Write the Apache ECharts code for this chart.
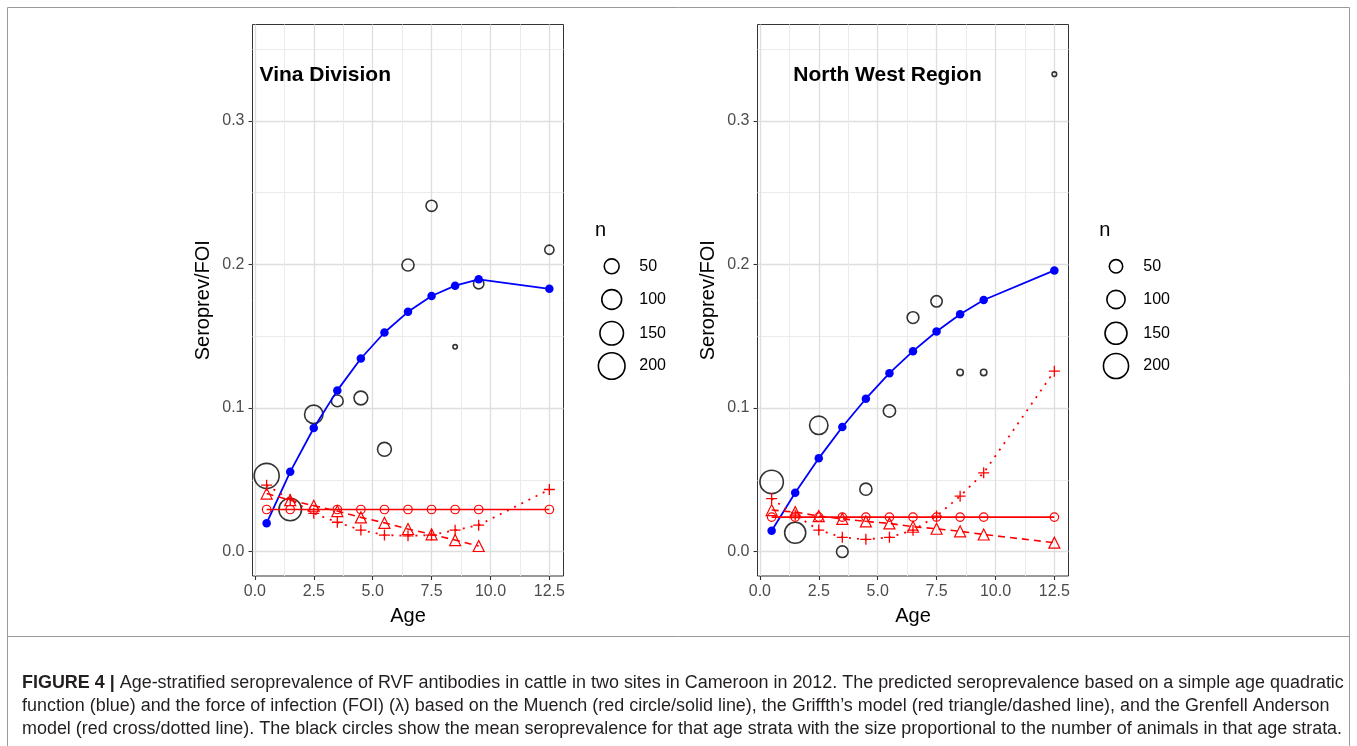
<!DOCTYPE html>
<html><head><meta charset="utf-8">
<script src="https://cdn.jsdelivr.net/npm/echarts@6/dist/echarts.min.js"></script>
<style>html,body{margin:0;padding:0;background:#fff}#c{width:1357px;height:746px}</style>
</head><body><div id="c"></div>
<script>
// ---------- data ----------
const ages = [0.5, 1.5, 2.5, 3.5, 4.5, 5.5, 6.5, 7.5, 8.5, 9.5, 12.5];
const xTicks = [0, 2.5, 5, 7.5, 10, 12.5];
const xMinor = [1.25, 3.75, 6.25, 8.75, 11.25];
const yTicks = [0, 0.1, 0.2, 0.3];
const yMinor = [0.05, 0.15, 0.25, 0.35];
const nBreaks = [50, 100, 150, 200];
const panelTitles = ['Vina Division', 'North West Region'];

// Vina Division
const vinaObs = [0.0528, 0.0294, 0.0956, 0.105, 0.107, 0.0713, 0.1996, 0.2408, 0.1426, 0.1866, 0.2102];
const vinaN = [174, 136, 84, 28, 41, 42, 30, 25, 7, 21, 16];
const vinaQuad = [0.0199, 0.0556, 0.0861, 0.1123, 0.1345, 0.1526, 0.1670, 0.1780, 0.1852, 0.1896, 0.1830];
const vinaMuench = [0.0294, 0.0294, 0.0294, 0.0294, 0.0294, 0.0294, 0.0294, 0.0294, 0.0294, 0.0294, 0.0294];
const vinaGriffiths = [0.0405, 0.0359, 0.0320, 0.0283, 0.0239, 0.0201, 0.0158, 0.0121, 0.0081, 0.0040, null];
const vinaGrenfell = [0.0463, 0.0364, 0.0267, 0.0205, 0.0151, 0.0116, 0.0111, 0.0116, 0.0150, 0.0185, 0.0433];

// North West Region
const nwObs = [0.0486, 0.0132, 0.0880, 0.0000, 0.0435, 0.0980, 0.1630, 0.1743, 0.1248, 0.1248, 0.3324];
const nwN = [172, 137, 102, 36, 40, 41, 37, 34, 8, 8, 3];
const nwQuad = [0.0146, 0.0410, 0.0650, 0.0868, 0.1065, 0.1243, 0.1396, 0.1533, 0.1653, 0.1752, 0.1958];
const nwMuench = [0.0241, 0.0241, 0.0241, 0.0241, 0.0241, 0.0241, 0.0241, 0.0241, 0.0241, 0.0241, 0.0241];
const nwGriffiths = [0.0290, 0.0276, 0.0248, 0.0229, 0.0211, 0.0197, 0.0174, 0.0160, 0.0142, 0.0120, 0.0063];
const nwGrenfell = [0.0370, 0.0255, 0.0151, 0.0100, 0.0086, 0.0100, 0.0150, 0.0248, 0.0387, 0.0549, 0.1257];

const captionLines = [
  '{b|FIGURE 4 |} Age-stratified seroprevalence of RVF antibodies in cattle in two sites in Cameroon in 2012. The predicted seroprevalence based on a simple age quadratic',
  'function (blue) and the force of infection (FOI) (\u03bb) based on the Muench (red circle/solid line), the Griffth\u2019s model (red triangle/dashed line), and the Grenfell Anderson',
  'model (red cross/dotted line). The black circles show the mean seroprevalence for that age strata with the size proportional to the number of animals in that age strata.'
];

// ---------- styling / layout ----------
const FONT = 'Liberation Sans, Arial, Helvetica, sans-serif';
const RED = '#ff0000', BLUE = '#0000ff';
const gridsPx = [{left: 252.5, top: 24.5, width: 311, height: 551.5}, {left: 757.5, top: 24.5, width: 311, height: 551.5}];
const xMin = -0.1, xMax = 13.1, yMin = -0.0169, yMax = 0.367;
// size scales (outer diameter, px) per panel, sqrt of n
const sizeScales = [{a: 6, b: 1.6, c: 7}, {a: 3.3, b: 1.655, c: 0}];
function diam(p, n) { const s = sizeScales[p]; return s.a + s.b * Math.sqrt(Math.max(0, n - s.c)); }

const panels = [
  {obs: vinaObs, n: vinaN, quad: vinaQuad, mu: vinaMuench, gr: vinaGriffiths, ga: vinaGrenfell},
  {obs: nwObs, n: nwN, quad: nwQuad, mu: nwMuench, gr: nwGriffiths, ga: nwGrenfell}
];
const pairs = arr => ages.map((a, i) => [a, arr[i]]).filter(d => d[1] != null);

const grid = [], xAxis = [], yAxis = [], series = [];
panels.forEach((P, p) => {
  grid.push(Object.assign({show: true, borderColor: '#333333', borderWidth: 1, backgroundColor: '#ffffff', containLabel: false}, gridsPx[p]));
  xAxis.push({gridIndex: p, type: 'value', min: xMin, max: xMax, position: 'bottom',
    axisLine: {show: false, onZero: false},
    axisTick: {show: true, length: 4, lineStyle: {color: '#333333', width: 1.1}, customValues: xTicks},
    axisLabel: {customValues: xTicks, formatter: v => v.toFixed(1), color: '#4d4d4d', fontSize: 16, margin: 8, fontFamily: FONT},
    splitLine: {show: true, lineStyle: {color: '#dedede', width: 1.3}},
    name: 'Age', nameLocation: 'middle', nameGap: 40,
    nameTextStyle: {fontSize: 20, color: '#000', fontFamily: FONT, verticalAlign: 'middle'}
  });
  xAxis.push({gridIndex: p, type: 'value', min: xMin, max: xMax, position: 'top',
    axisLine: {show: false, onZero: false}, axisTick: {show: false, customValues: xMinor},
    axisLabel: {show: false, customValues: xMinor},
    splitLine: {show: true, lineStyle: {color: '#ebebeb', width: 1}}
  });
  yAxis.push({gridIndex: p, type: 'value', min: yMin, max: yMax, position: 'left',
    axisLine: {show: false, onZero: false},
    axisTick: {show: true, length: 4, lineStyle: {color: '#333333', width: 1.1}, customValues: yTicks},
    axisLabel: {customValues: yTicks, formatter: v => v.toFixed(1), color: '#4d4d4d', fontSize: 16, margin: 8, fontFamily: FONT},
    splitLine: {show: true, lineStyle: {color: '#dedede', width: 1.3}},
    name: 'Seroprev/FOI', nameLocation: 'middle', nameGap: 49, nameRotate: 90,
    nameTextStyle: {fontSize: 20, color: '#000', fontFamily: FONT, verticalAlign: 'middle'}
  });
  yAxis.push({gridIndex: p, type: 'value', min: yMin, max: yMax, position: 'right',
    axisLine: {show: false, onZero: false}, axisTick: {show: false, customValues: yMinor},
    axisLabel: {show: false, customValues: yMinor},
    splitLine: {show: true, lineStyle: {color: '#ebebeb', width: 1}}
  });
  const xi = p * 2, yi = p * 2;
  series.push({type: 'scatter', xAxisIndex: xi, yAxisIndex: yi, z: 3,
    data: ages.map((a, i) => [a, P.obs[i], P.n[i]]),
    symbol: 'circle', symbolSize: v => diam(p, v[2]) - 1.6,
    itemStyle: {color: 'rgba(0,0,0,0)', borderColor: '#000', borderWidth: 1.6}
  });
  series.push({type: 'line', xAxisIndex: xi, yAxisIndex: yi, z: 4, data: pairs(P.quad),
    symbol: 'circle', symbolSize: 8.5, showSymbol: true,
    itemStyle: {color: BLUE}, lineStyle: {color: BLUE, width: 1.8}
  });
  series.push({type: 'line', xAxisIndex: xi, yAxisIndex: yi, z: 4, data: pairs(P.mu),
    symbol: 'circle', symbolSize: 8.5,
    itemStyle: {color: 'rgba(0,0,0,0)', borderColor: RED, borderWidth: 1.2}, lineStyle: {color: RED, width: 1.6}
  });
  series.push({type: 'line', xAxisIndex: xi, yAxisIndex: yi, z: 4, data: pairs(P.gr),
    symbol: 'triangle', symbolSize: 11,
    itemStyle: {color: 'rgba(0,0,0,0)', borderColor: RED, borderWidth: 1.2}, lineStyle: {color: RED, width: 1.6, type: [7, 5]}
  });
  series.push({type: 'line', xAxisIndex: xi, yAxisIndex: yi, z: 4, data: pairs(P.ga),
    symbol: 'path://M0,5L10,5M5,0L5,10', symbolSize: 11,
    itemStyle: {color: 'rgba(0,0,0,0)', borderColor: RED, borderWidth: 1.3}, lineStyle: {color: RED, width: 1.8, type: [2, 6]}
  });
});

// ---------- graphic (frame, titles, size legends, caption) ----------
const graphic = [
  {type: 'rect', z: 100, shape: {x: 7.5, y: 7.5, width: 1342, height: 800}, style: {fill: 'none', stroke: '#9a9a9a', lineWidth: 1}, silent: true},
  {type: 'line', z: 100, shape: {x1: 7.5, y1: 636.5, x2: 1349.5, y2: 636.5}, style: {stroke: '#9a9a9a', lineWidth: 1}, silent: true},
  {type: 'text', z: 100, x: 259.5, y: 75, style: {text: panelTitles[0], font: 'bold 21px ' + FONT, fill: '#000', textVerticalAlign: 'middle'}},
  {type: 'text', z: 100, x: 793.3, y: 75, style: {text: panelTitles[1], font: 'bold 21px ' + FONT, fill: '#000', textVerticalAlign: 'middle'}}
];
const legendPos = [{nx: 595, cx: 611.7, lx: 639.3}, {nx: 1099.3, cx: 1116, lx: 1143.3}];
const legendY = [266.3, 299.5, 333.3, 366];
legendPos.forEach((L, p) => {
  graphic.push({type: 'text', z: 100, x: L.nx, y: 230.7, style: {text: 'n', font: '20px ' + FONT, fill: '#000', textVerticalAlign: 'middle'}});
  nBreaks.forEach((b, i) => {
    graphic.push({type: 'circle', z: 100, shape: {cx: L.cx, cy: legendY[i], r: (diam(p, b) - 1.6) / 2}, style: {fill: 'none', stroke: '#000', lineWidth: 1.6}});
    graphic.push({type: 'text', z: 100, x: L.lx, y: legendY[i], style: {text: String(b), font: '16px ' + FONT, fill: '#000', textVerticalAlign: 'middle'}});
  });
});
const capY = [683, 706, 729];
captionLines.forEach((t, i) => {
  graphic.push({type: 'text', z: 100, x: 22, y: capY[i], style: {text: t, fontFamily: FONT, fontSize: 17.95, fill: '#231f20', verticalAlign: 'middle',
    rich: {b: {fontFamily: FONT, fontSize: 17.95, fontWeight: 'bold', fill: '#231f20', verticalAlign: 'middle'}}}});
});

const chart = echarts.init(document.getElementById('c'), null, {renderer: 'canvas'});
chart.setOption({animation: false, backgroundColor: '#ffffff', textStyle: {fontFamily: FONT}, grid, xAxis, yAxis, series, graphic});
</script>
</body></html>
